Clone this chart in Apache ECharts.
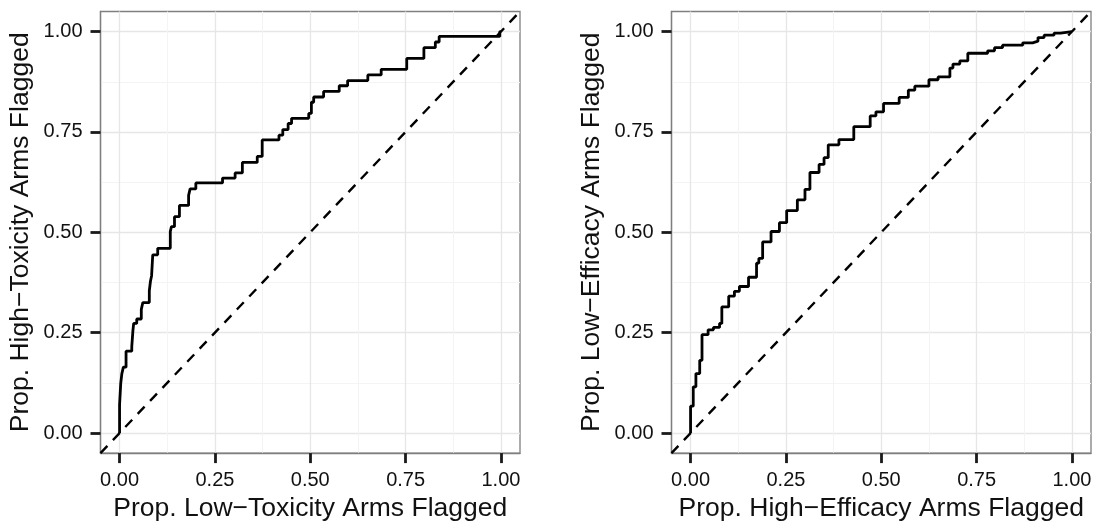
<!DOCTYPE html>
<html><head><meta charset="utf-8">
<script src="https://cdn.jsdelivr.net/npm/echarts@6/dist/echarts.min.js"></script>
<style>html,body{margin:0;padding:0;background:#fff}#c{width:1097px;height:527px}</style>
</head><body><div id="c"></div>
<script>
// ---- data ----
const tickValues = [0, 0.25, 0.5, 0.75, 1];
const tickLabels = ['0.00', '0.25', '0.50', '0.75', '1.00'];
const minorValues = [0.125, 0.375, 0.625, 0.875];
const axisRange = [-0.05, 1.05];
const diagonal = [[-0.05, -0.05], [1.05, 1.05]];

const leftXTitle = 'Prop. Low\u2212Toxicity Arms Flagged';
const leftYTitle = 'Prop. High\u2212Toxicity Arms Flagged';
const rightXTitle = 'Prop. High\u2212Efficacy Arms Flagged';
const rightYTitle = 'Prop. Low\u2212Efficacy Arms Flagged';

const leftX = [0, 0, 0.003, 0.006, 0.01, 0.017, 0.032, 0.035, 0.037, 0.045, 0.057, 0.061, 0.078, 0.081, 0.084, 0.087, 0.1, 0.133, 0.136, 0.144, 0.157, 0.181, 0.185, 0.2, 0.27, 0.303, 0.322, 0.361, 0.374, 0.418, 0.428, 0.442, 0.451, 0.496, 0.503, 0.509, 0.535, 0.576, 0.598, 0.651, 0.686, 0.753, 0.798, 0.828, 0.838, 0.997, 1];
const leftY = [0, 0.07, 0.123, 0.148, 0.164, 0.204, 0.215, 0.255, 0.273, 0.284, 0.308, 0.325, 0.354, 0.378, 0.392, 0.444, 0.46, 0.502, 0.514, 0.539, 0.567, 0.592, 0.608, 0.623, 0.635, 0.648, 0.674, 0.689, 0.730, 0.742, 0.756, 0.771, 0.784, 0.796, 0.824, 0.837, 0.851, 0.865, 0.878, 0.892, 0.906, 0.933, 0.960, 0.974, 0.988, 1.0, 1.0];

const rightX = [0, 0, 0.007, 0.014, 0.024, 0.030, 0.046, 0.06, 0.076, 0.082, 0.1, 0.115, 0.128, 0.152, 0.173, 0.179, 0.189, 0.211, 0.233, 0.252, 0.28, 0.3, 0.313, 0.337, 0.35, 0.361, 0.389, 0.428, 0.471, 0.486, 0.506, 0.547, 0.571, 0.588, 0.625, 0.649, 0.68, 0.688, 0.706, 0.727, 0.779, 0.797, 0.818, 0.871, 0.897, 0.911, 0.927, 0.953, 0.97, 1];
const rightY = [0, 0.067, 0.115, 0.148, 0.181, 0.245, 0.257, 0.263, 0.273, 0.314, 0.341, 0.353, 0.365, 0.388, 0.423, 0.435, 0.476, 0.502, 0.524, 0.554, 0.581, 0.607, 0.649, 0.669, 0.686, 0.718, 0.731, 0.763, 0.790, 0.800, 0.821, 0.836, 0.854, 0.864, 0.880, 0.887, 0.909, 0.919, 0.927, 0.946, 0.952, 0.960, 0.966, 0.972, 0.976, 0.985, 0.991, 0.996, 1.0, 1.0];

// ---- chart ----
const FONT = '"Liberation Sans", Arial, Helvetica, sans-serif';
const TXT = '#111';
const FRAME = '#7f7f7f';
function fmt(v) {
  for (let i = 0; i < tickValues.length; i++) if (Math.abs(tickValues[i] - v) < 1e-9) return tickLabels[i];
  return '';
}
function mainAxis(dim, gridIndex, name) {
  const isX = dim === 'x';
  return {
    type: 'value', gridIndex: gridIndex, min: axisRange[0], max: axisRange[1],
    position: isX ? 'bottom' : 'left',
    axisLine: { show: true, onZero: false, lineStyle: { color: FRAME, width: 1.3 } },
    axisTick: { show: true, length: 10, customValues: tickValues, lineStyle: { color: '#1a1a1a', width: 2.8 } },
    axisLabel: { show: true, customValues: tickValues, formatter: fmt, margin: isX ? 17 : 18, fontSize: 20, color: TXT, fontFamily: FONT },
    splitLine: { show: true, lineStyle: { color: '#e6e6e6', width: 1.3 } },
    name: name, nameLocation: 'middle', nameGap: isX ? 40 : 66,
    nameTextStyle: { fontSize: 26.5, color: TXT, fontFamily: FONT }
  };
}
function minorAxis(dim, gridIndex) {
  return {
    type: 'value', gridIndex: gridIndex, min: axisRange[0], max: axisRange[1],
    position: dim === 'x' ? 'top' : 'right',
    axisLine: { show: false, onZero: false },
    axisTick: { show: false, customValues: minorValues },
    axisLabel: { show: false, customValues: minorValues },
    splitLine: { show: true, lineStyle: { color: '#f4f4f4', width: 1 } }
  };
}
function zip(a, b) { return a.map((v, i) => [v, b[i]]); }

const chart = echarts.init(document.getElementById('c'), null, { renderer: 'canvas' });
chart.setOption({
  animation: false,
  backgroundColor: '#fff',
  grid: [
    { left: 100.5, top: 11.5, width: 419.5, height: 445, show: true, borderColor: FRAME, borderWidth: 1.3, backgroundColor: 'transparent' },
    { left: 671.5, top: 11.5, width: 419.5, height: 445, show: true, borderColor: FRAME, borderWidth: 1.3, backgroundColor: 'transparent' }
  ],
  xAxis: [mainAxis('x', 0, leftXTitle), mainAxis('x', 1, rightXTitle), minorAxis('x', 0), minorAxis('x', 1)],
  yAxis: [mainAxis('y', 0, leftYTitle), mainAxis('y', 1, rightYTitle), minorAxis('y', 0), minorAxis('y', 1)],
  series: [
    { type: 'line', xAxisIndex: 0, yAxisIndex: 0, data: diagonal, symbol: 'none', lineStyle: { color: '#000', width: 2.4, type: [10, 8] }, z: 3 },
    { type: 'line', xAxisIndex: 0, yAxisIndex: 0, data: zip(leftX, leftY), step: 'end', symbol: 'none', lineStyle: { color: '#000', width: 2.8 }, z: 4 },
    { type: 'line', xAxisIndex: 1, yAxisIndex: 1, data: diagonal, symbol: 'none', lineStyle: { color: '#000', width: 2.4, type: [10, 8] }, z: 3 },
    { type: 'line', xAxisIndex: 1, yAxisIndex: 1, data: zip(rightX, rightY), step: 'end', symbol: 'none', lineStyle: { color: '#000', width: 2.8 }, z: 4 }
  ]
});
</script>
</body></html>
